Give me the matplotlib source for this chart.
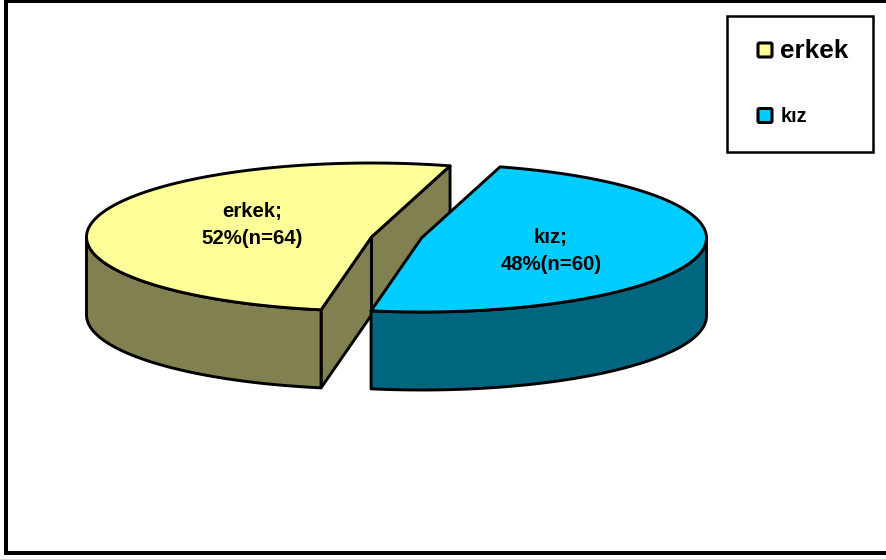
import numpy as np
import matplotlib
matplotlib.use("Agg")
import matplotlib.pyplot as plt
from matplotlib.patches import Polygon, Rectangle, FancyBboxPatch

# Survey counts by gender
categories = ["erkek", "kız"]
counts = [64, 60]
percent_labels = ["52%(n=64)", "48%(n=60)"]

top_colors = ["#FFFF99", "#00CCFF"]
side_colors = ["#808050", "#006680"]

plt.rcParams["font.family"] = ["Liberation Sans", "DejaVu Sans"]

fig = plt.figure(figsize=(8.86, 5.59), dpi=100)
ax = fig.add_axes([0, 0, 1, 1])
ax.set_xlim(0, 886)
ax.set_ylim(559, 0)
ax.axis("off")

# Pie projection, in canvas pixels
RX, RY, DEPTH = 285.0, 74.0, 78.0
START_ANGLE = 74.0
centers = [(371.5, 237.0), (421.5, 238.0)]
LW = 2.1


def rim(center, a0, a1, n=120):
    t = np.radians(np.linspace(a0, a1, n))
    return np.column_stack([center[0] + RX * np.cos(t), center[1] - RY * np.sin(t)])


def add_poly(points, color, z):
    ax.add_patch(Polygon(points, closed=True, facecolor=color, edgecolor="black",
                         linewidth=LW, joinstyle="round", zorder=z))


def add_wall(center, a0, a1, color, z):
    arc = rim(center, a0, a1)
    add_poly(np.vstack([arc, (arc + [0, DEPTH])[::-1]]), color, z)


# Slice sweeps come from the counts, going counter-clockwise from the start angle
sweeps = 360.0 * np.array(counts) / sum(counts)
a_yellow = (START_ANGLE, START_ANGLE + sweeps[0])
a_blue = (a_yellow[1], a_yellow[1] + sweeps[1])

# erkek: cut faces, outer wall, then top
c = np.array(centers[0])
for ang in a_yellow:
    edge = rim(c, ang, ang, 1)[0]
    add_poly([c, edge, edge + [0, DEPTH], c + [0, DEPTH]], side_colors[0], 2)
add_wall(c, 180, a_yellow[1], side_colors[0], 3)
add_poly(np.vstack([c, rim(c, *a_yellow)]), top_colors[0], 4)

# kız: outer wall, then top
c = np.array(centers[1])
add_wall(c, a_blue[0], 360, side_colors[1], 5)
add_poly(np.vstack([c, rim(c, *a_blue)]), top_colors[1], 6)

# Slice labels
label_pos = [(252, 225), (551, 251)]
for (x, y), name, pct in zip(label_pos, categories, percent_labels):
    ax.text(x, y, f"{name};\n{pct}", ha="center", va="center", fontsize=14.7,
            fontweight="bold", linespacing=1.55, zorder=7)

# Legend
ax.add_patch(Rectangle((727.5, 15.5), 146, 136.5, facecolor="white", edgecolor="black",
                       linewidth=1.8, zorder=8))
legend_rows = [(50, 18.8), (115.5, 14.4)]
for (y, size), name, color in zip(legend_rows, categories, top_colors):
    ax.add_patch(FancyBboxPatch((758, y - 7), 14, 14, boxstyle="round,pad=0,rounding_size=1.5",
                                facecolor=color, edgecolor="black", linewidth=2.2, zorder=9))
    ax.text(780.5, y + 1, name, ha="left", va="center", fontsize=size,
            fontweight="bold", zorder=9)

# Outer frame
for xy, w, h in [((4, 0), 4, 555), ((4, 551), 882, 4), ((4, 0), 882, 3)]:
    ax.add_patch(Rectangle(xy, w, h, facecolor="black", linewidth=0, zorder=10))

fig.savefig("out.png", dpi=100, facecolor="white")
